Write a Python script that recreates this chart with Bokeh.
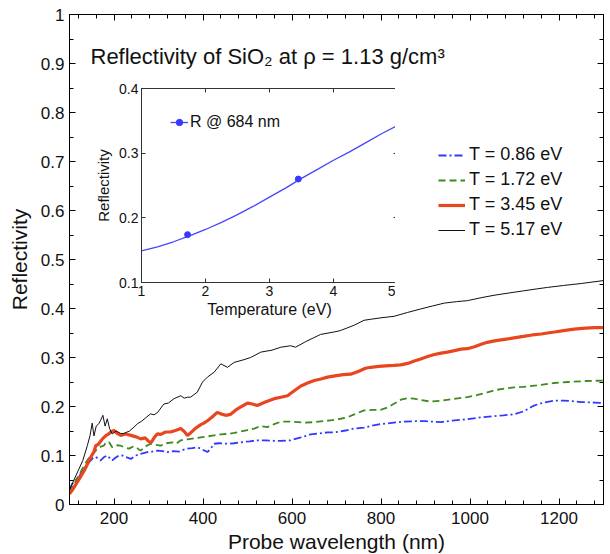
from bokeh.plotting import figure
from bokeh.models import Legend, LegendItem, LinearAxis, Label, FixedTicker
from bokeh.layouts import column
from bokeh.embed import file_html
from bokeh.resources import INLINE

FONT = "Liberation Sans"

# ---------------- data ----------------
x_ticks = [200, 400, 600, 800, 1000, 1200]
x_tick_labels = ["200", "400", "600", "800", "1000", "1200"]
x_minor = [120, 160, 240, 280, 320, 360, 440, 480, 520, 560, 640, 680, 720, 760,
           840, 880, 920, 960, 1040, 1080, 1120, 1160, 1240, 1280]
y_ticks = [0, 0.1, 0.2, 0.3, 0.4, 0.5, 0.6, 0.7, 0.8, 0.9, 1]
y_tick_labels = ["0", "0.1", "0.2", "0.3", "0.4", "0.5", "0.6", "0.7", "0.8", "0.9", "1"]
y_minor = [0.05, 0.15, 0.25, 0.35, 0.45, 0.55, 0.65, 0.75, 0.85, 0.95]

series_labels = ["T = 0.86 eV", "T = 1.72 eV", "T = 3.45 eV", "T = 5.17 eV"]

# (wavelength nm, reflectivity)
t086 = [(100, 0.03), (106, 0.042), (114, 0.05), (121, 0.056), (127, 0.066), (133, 0.073),
        (140, 0.082), (148, 0.09), (153, 0.095), (159, 0.097), (165, 0.093), (170, 0.09),
        (178, 0.097), (185, 0.1), (190, 0.095), (196, 0.09), (204, 0.096), (211, 0.1),
        (219, 0.1), (226, 0.097), (232, 0.095), (238, 0.093), (244, 0.097), (249, 0.1),
        (262, 0.104), (275, 0.107), (286, 0.108), (298, 0.11), (309, 0.109), (320, 0.107),
        (333, 0.109), (346, 0.108), (357, 0.112), (365, 0.114), (376, 0.115), (387, 0.117),
        (399, 0.112), (410, 0.107), (418, 0.115), (425, 0.124), (436, 0.125), (455, 0.124),
        (470, 0.125), (485, 0.127), (505, 0.129), (522, 0.131), (540, 0.131), (560, 0.13),
        (575, 0.13), (597, 0.131), (620, 0.137), (642, 0.143), (660, 0.145), (680, 0.147),
        (694, 0.147), (720, 0.151), (739, 0.155), (762, 0.157), (780, 0.161), (799, 0.164),
        (829, 0.167), (850, 0.169), (874, 0.17), (900, 0.17), (934, 0.168), (960, 0.171),
        (994, 0.174), (1024, 0.178), (1050, 0.18), (1075, 0.182), (1099, 0.184), (1120, 0.19),
        (1144, 0.202), (1165, 0.208), (1189, 0.212), (1210, 0.212), (1227, 0.211),
        (1250, 0.209), (1280, 0.208), (1300, 0.207)]

t172 = [(100, 0.025), (106, 0.035), (115, 0.05), (125, 0.066), (133, 0.08), (140, 0.09),
        (148, 0.1), (155, 0.106), (163, 0.114), (170, 0.118), (177, 0.12), (183, 0.128),
        (189, 0.127), (196, 0.117), (205, 0.121), (215, 0.12), (225, 0.116), (234, 0.114),
        (242, 0.118), (249, 0.117), (255, 0.113), (260, 0.11), (270, 0.118), (282, 0.124),
        (293, 0.122), (305, 0.12), (318, 0.125), (331, 0.127), (340, 0.124), (350, 0.131),
        (365, 0.133), (380, 0.135), (395, 0.137), (410, 0.139), (425, 0.141), (440, 0.143),
        (455, 0.144), (470, 0.146), (485, 0.149), (500, 0.152), (515, 0.155), (530, 0.16),
        (545, 0.158), (560, 0.164), (575, 0.169), (595, 0.169), (615, 0.168), (630, 0.167),
        (649, 0.168), (670, 0.17), (690, 0.172), (709, 0.175), (725, 0.178), (740, 0.184),
        (762, 0.192), (780, 0.193), (799, 0.193), (815, 0.198), (830, 0.206), (845, 0.214),
        (860, 0.217), (874, 0.216), (890, 0.213), (912, 0.21), (935, 0.212), (960, 0.215),
        (994, 0.219), (1015, 0.223), (1039, 0.229), (1060, 0.234), (1080, 0.237),
        (1099, 0.239), (1120, 0.24), (1150, 0.243), (1189, 0.248), (1220, 0.25),
        (1260, 0.252), (1300, 0.253)]

t345 = [(100, 0.022), (106, 0.029), (115, 0.042), (125, 0.057), (133, 0.069), (140, 0.082),
        (148, 0.097), (155, 0.108), (159, 0.12), (165, 0.123), (174, 0.134), (181, 0.14),
        (188, 0.144), (193, 0.148), (200, 0.151), (207, 0.145), (215, 0.141), (226, 0.144),
        (238, 0.141), (250, 0.138), (260, 0.134), (270, 0.136), (279, 0.128), (284, 0.127),
        (290, 0.136), (297, 0.144), (305, 0.143), (316, 0.148), (327, 0.148), (338, 0.151),
        (350, 0.155), (358, 0.149), (365, 0.141), (372, 0.146), (380, 0.153), (387, 0.158),
        (395, 0.163), (402, 0.166), (410, 0.171), (420, 0.178), (432, 0.188), (440, 0.185),
        (451, 0.182), (462, 0.184), (474, 0.193), (485, 0.199), (500, 0.207), (511, 0.205),
        (522, 0.202), (540, 0.209), (560, 0.216), (575, 0.219), (590, 0.222), (605, 0.232),
        (620, 0.242), (635, 0.248), (650, 0.253), (665, 0.256), (680, 0.26), (700, 0.263),
        (715, 0.265), (732, 0.266), (750, 0.272), (765, 0.278), (777, 0.28), (795, 0.282),
        (810, 0.283), (829, 0.284), (844, 0.285), (860, 0.288), (875, 0.293), (889, 0.297),
        (905, 0.302), (920, 0.306), (935, 0.309), (949, 0.311), (965, 0.314), (980, 0.317),
        (994, 0.318), (1010, 0.322), (1025, 0.327), (1039, 0.331), (1055, 0.334),
        (1070, 0.336), (1085, 0.338), (1099, 0.34), (1120, 0.343), (1140, 0.346),
        (1160, 0.348), (1174, 0.35), (1190, 0.352), (1210, 0.355), (1234, 0.358),
        (1260, 0.36), (1280, 0.361), (1300, 0.361)]

t517 = [(100, 0.03), (110, 0.05), (120, 0.07), (130, 0.09), (140, 0.12), (146, 0.14),
        (151, 0.166), (155, 0.14), (160, 0.16), (166, 0.165), (170, 0.172), (175, 0.182),
        (180, 0.16), (185, 0.175), (190, 0.155), (196, 0.144), (205, 0.15), (215, 0.145),
        (222, 0.145), (235, 0.15), (245, 0.158), (253, 0.165), (262, 0.17), (270, 0.176),
        (282, 0.185), (290, 0.183), (298, 0.188), (312, 0.205), (322, 0.207), (335, 0.216),
        (350, 0.222), (358, 0.217), (365, 0.219), (372, 0.219), (387, 0.229), (399, 0.25),
        (410, 0.26), (425, 0.27), (440, 0.287), (455, 0.28), (470, 0.29), (490, 0.295),
        (507, 0.3), (530, 0.311), (555, 0.315), (575, 0.321), (597, 0.324), (608, 0.321),
        (630, 0.332), (664, 0.347), (694, 0.352), (709, 0.355), (740, 0.366), (762, 0.376),
        (777, 0.378), (800, 0.381), (829, 0.384), (860, 0.392), (889, 0.399), (915, 0.405),
        (942, 0.411), (970, 0.414), (994, 0.416), (1025, 0.422), (1054, 0.427),
        (1090, 0.432), (1120, 0.436), (1150, 0.44), (1174, 0.443), (1210, 0.447),
        (1250, 0.451), (1300, 0.457)]

# inset: reflectivity at 684 nm vs temperature
inset_T = [1, 1.25, 1.5, 1.75, 2, 2.25, 2.5, 2.75, 3, 3.25, 3.5, 3.75, 4, 4.25, 4.5, 4.75, 5]
inset_R = [0.149, 0.155, 0.163, 0.172, 0.182, 0.193, 0.205, 0.218, 0.232, 0.246, 0.261,
           0.275, 0.289, 0.302, 0.316, 0.33, 0.343]
marker_T = [1.72, 3.45]
marker_R = [0.174, 0.26]
inset_x_ticks = [1, 2, 3, 4, 5]
inset_x_labels = ["1", "2", "3", "4", "5"]
inset_y_ticks = [0.1, 0.2, 0.3, 0.4]
inset_y_labels = ["0.1", "0.2", "0.3", "0.4"]

# ---------------- main figure ----------------
p = figure(frame_width=534, frame_height=490, x_range=(100, 1300), y_range=(0, 1),
           output_backend="svg", toolbar_location=None,
           min_border_left=69, min_border_right=7, min_border_top=14, min_border_bottom=50,
           background_fill_color="white", border_fill_color="white")
p.outline_line_color = "black"
p.xgrid.visible = False
p.ygrid.visible = False


def style_axis(ax, ticks, minor, labels, show, size, tin, mtin, color="black"):
    ax.ticker = FixedTicker(ticks=ticks, minor_ticks=minor)
    ax.major_label_overrides = {t: (l if show else "") for t, l in zip(ticks, labels)}
    ax.axis_line_color = color
    ax.major_tick_line_color = color
    ax.minor_tick_line_color = color
    ax.major_tick_in = tin
    ax.major_tick_out = 0
    ax.minor_tick_in = mtin
    ax.minor_tick_out = 0
    ax.major_label_text_font = FONT
    ax.major_label_text_font_size = size if show else "0px"
    ax.major_label_text_color = "#111111"
    ax.axis_label_text_font = FONT
    ax.axis_label_text_font_style = "normal"
    ax.axis_label_text_color = "#111111"


style_axis(p.xaxis[0], x_ticks, x_minor, x_tick_labels, True, "17px", 6, 4)
style_axis(p.yaxis[0], y_ticks, y_minor, y_tick_labels, True, "17px", 6, 4)
p.xaxis[0].axis_label = "Probe wavelength (nm)"
p.xaxis[0].axis_label_text_font_size = "21px"
p.xaxis[0].major_label_standoff = 7
p.xaxis[0].axis_label_standoff = 3
p.yaxis[0].axis_label = "Reflectivity"
p.yaxis[0].axis_label_text_font_size = "21px"
p.yaxis[0].major_label_standoff = 5
p.yaxis[0].axis_label_standoff = 7

top_ax = LinearAxis()
style_axis(top_ax, x_ticks, x_minor, x_tick_labels, False, "17px", 6, 4)
top_ax.major_label_standoff = 0
p.add_layout(top_ax, "above")
right_ax = LinearAxis()
style_axis(right_ax, y_ticks, y_minor, y_tick_labels, False, "17px", 6, 4)
right_ax.major_label_standoff = 0
p.add_layout(right_ax, "right")

colors = ["#2b3bff", "#3d8a1e", "#e8461e", "#111111"]
widths = [1.8, 1.8, 3.2, 1.0]
dashes = ["8 3 2 3", "7 4", "solid", "solid"]
renderers = []
for data, c, w, d in zip([t086, t172, t345, t517], colors, widths, dashes):
    xs = [a for a, b in data]
    ys = [b for a, b in data]
    r = p.line(xs, ys, line_color=c, line_width=w, line_dash=d)
    renderers.append(r)

legend = Legend(items=[LegendItem(label=l, renderers=[r]) for l, r in zip(series_labels, renderers)],
                location=(369, 264), border_line_alpha=0, background_fill_alpha=0,
                label_text_font=FONT, label_text_font_size="18px", label_text_color="#111111",
                glyph_width=27, glyph_height=20, label_height=20, spacing=4,
                padding=0, margin=0, label_standoff=4)
p.add_layout(legend)

title = Label(x=21, y=448, x_units="screen", y_units="screen",
              text="Reflectivity of SiO\u2082  at  \u03c1 = 1.13 g/cm\u00b3",
              text_font=FONT, text_font_size="22px", text_color="#111111",
              text_baseline="alphabetic")
p.add_layout(title)

# ---------------- inset figure ----------------
IN_LEFT, IN_TOP = 55, 8
q = figure(frame_width=256, frame_height=194, x_range=(1, 5), y_range=(0.1, 0.4),
           output_backend="svg", toolbar_location=None,
           min_border_left=IN_LEFT, min_border_right=12, min_border_top=IN_TOP, min_border_bottom=42,
           background_fill_color="white", border_fill_color=None,
           styles={"position": "absolute", "left": f"{141 - IN_LEFT - 14}px", "top": f"{88 - IN_TOP}px"})
q.outline_line_color = "#333333"
q.xgrid.visible = False
q.ygrid.visible = False
style_axis(q.xaxis[0], inset_x_ticks, [], inset_x_labels, True, "14px", 4, 0, "#333333")
style_axis(q.yaxis[0], inset_y_ticks, [], inset_y_labels, True, "14px", 4, 0, "#333333")
q.xaxis[0].axis_label = "Temperature (eV)"
q.xaxis[0].axis_label_text_font_size = "16px"
q.xaxis[0].major_label_standoff = 3
q.xaxis[0].axis_label_standoff = 2
q.yaxis[0].axis_label = "Reflectivity"
q.yaxis[0].axis_label_text_font_size = "15px"
q.yaxis[0].major_label_standoff = 3
q.yaxis[0].axis_label_standoff = 4
qt = LinearAxis()
style_axis(qt, inset_x_ticks, [], inset_x_labels, False, "14px", 4, 0, "#333333")
qt.major_label_standoff = 0
q.add_layout(qt, "above")
qr = LinearAxis()
style_axis(qr, inset_y_ticks, [], inset_y_labels, False, "14px", 4, 0, "#333333")
qr.major_label_standoff = 0
q.add_layout(qr, "right")

ln = q.line(inset_T, inset_R, line_color="#4646ff", line_width=1.3)
mk = q.scatter(marker_T, marker_R, size=6, marker="circle", fill_color="#3a3aff", line_color="#3a3aff")
ilegend = Legend(items=[LegendItem(label="R @ 684 nm", renderers=[ln, mk])],
                 location=(43, 151), border_line_alpha=0, background_fill_alpha=0,
                 label_text_font=FONT, label_text_font_size="16px", label_text_color="#111111",
                 glyph_width=18, glyph_height=16, label_height=16, padding=0, margin=0,
                 label_standoff=2)
q.add_layout(ilegend)

root = column(p, q, styles={"position": "relative"})
open("out.html", "w").write(file_html(root, INLINE))
